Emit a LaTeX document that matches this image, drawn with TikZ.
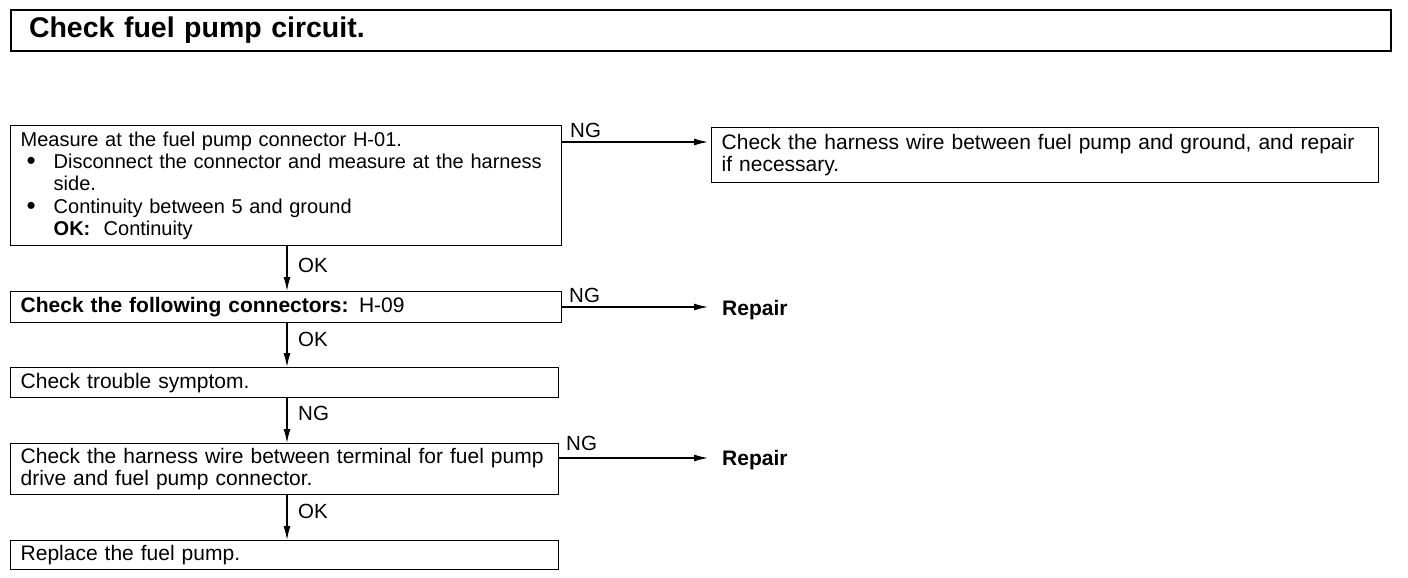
\documentclass[tikz,border=0pt]{standalone}
\usepackage{fontspec}
\setmainfont{Liberation Sans}[WordSpace=1.2]
\newfontfamily\boxonefont{Liberation Sans}
\usetikzlibrary{arrows.meta}
\tikzset{
  box/.style={draw, line width=1.4pt, rectangle, anchor=north west, inner xsep=10pt, inner ysep=0pt, align=left, font=\fontsize{21}{22.3}\selectfont},
  titlebox/.style={draw, line width=2pt, rectangle, anchor=north west, inner xsep=18pt, inner ysep=0pt, align=left, font=\fontsize{28.5}{32}\selectfont\bfseries},
  arr/.style={line width=1.3pt, -{Latex[length=14pt,width=7pt]}},
  lab/.style={font=\fontsize{20.5}{22}\selectfont, inner sep=0pt},
  rep/.style={font=\fontsize{21}{22}\selectfont\bfseries, inner sep=0pt, anchor=west}
}
\newcommand{\bul}{\makebox[33pt][l]{\hspace{6pt}\raisebox{-1.2pt}[0pt][0pt]{\scalebox{1.3}{\textbullet}}}}
\begin{document}
\begin{tikzpicture}[x=1pt,y=-1pt]
\useasboundingbox (0,0) rectangle (1408,578);
\node[titlebox, text width=1344pt, minimum height=41pt] (title) at (10,9) {Check fuel pump circuit.};

\node[box, text width=531pt, minimum height=120pt, font=\boxonefont\fontsize{20}{22.3}\selectfont] (b1) at (10,125) {\mbox{Measure at the fuel pump connector H-01.}\\
\mbox{\bul Disconnect the connector and measure at the harness}\\
\hspace*{33pt}side.\\
\mbox{\bul Continuity between 5 and ground}\\
\hspace*{33pt}\textbf{OK:}\ \ Continuity};

\node[box, text width=647pt, minimum height=55pt] (r1) at (711,127) {\mbox{Check the harness wire between fuel pump and ground, and repair}\\if necessary.};

\node[box, text width=531pt, minimum height=31pt] (b2) at (10,291) {\textbf{Check the following connectors:} H-09};
\node[box, text width=528pt, minimum height=30pt] (b3) at (10,367) {Check trouble symptom.};
\node[box, text width=528pt, minimum height=51pt] (b4) at (10,443) {\mbox{Check the harness wire between terminal for fuel pump}\\drive and fuel pump connector.};
\node[box, text width=528pt, minimum height=29pt] (b5) at (10,540) {Replace the fuel pump.};

\node[rep] (rep2) at (722,310) {Repair};
\node[rep] (rep4) at (722,460) {Repair};

\coordinate (ax) at (287,0);
\coordinate (tip) at (708,0);
\coordinate (y1) at (0,142);
\coordinate (y2) at (0,307);
\coordinate (y4) at (0,458);

% horizontal NG arrows
\draw[arr] (b1.east |- y1) -- (tip |- y1);
\node[lab, anchor=west] (ng1) at (570,130) {NG};
\draw[arr] (b2.east |- y2) -- (tip |- y2);
\node[lab, anchor=west] (ng2) at (569,295) {NG};
\draw[arr] (b4.east |- y4) -- (tip |- y4);
\node[lab, anchor=west] (ng4) at (566,443) {NG};

% vertical arrows
\draw[arr] (b1.south -| ax) -- (b2.north -| ax);
\node[lab, anchor=west] (ok1) at (298,265) {OK};
\draw[arr] (b2.south -| ax) -- (b3.north -| ax);
\node[lab, anchor=west] (ok2) at (298,339) {OK};
\draw[arr] (b3.south -| ax) -- (b4.north -| ax);
\node[lab, anchor=west] (ng3) at (298,413) {NG};
\draw[arr] (b4.south -| ax) -- (b5.north -| ax);
\node[lab, anchor=west] (ok4) at (298,511) {OK};
\end{tikzpicture}
\end{document}
